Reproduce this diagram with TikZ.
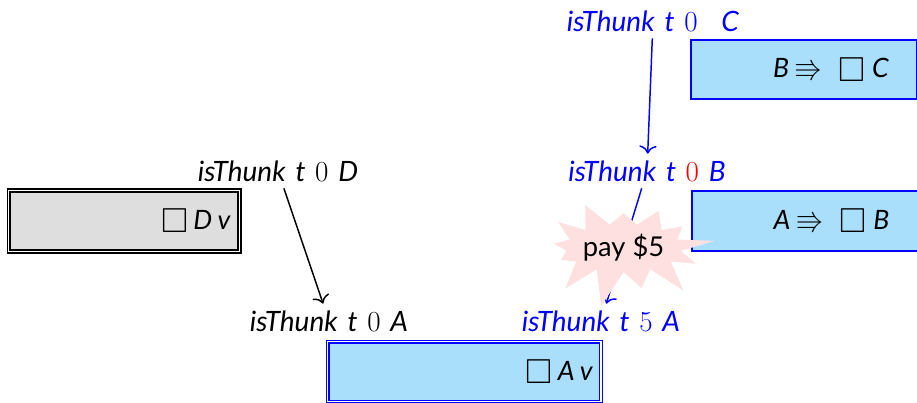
\documentclass[tikz,border=0pt]{standalone}
\usepackage{fontspec}
\usepackage{amsmath,amssymb}
\usepackage{xcolor}
\setmainfont{Lato}
\usetikzlibrary{positioning, arrows.meta, shapes.symbols}
\definecolor{lightsky}{HTML}{A9DFFB}
\definecolor{lightgrey}{HTML}{DEDEDE}
\definecolor{burstpink}{HTML}{FFE0E0}
\newcommand{\thunktext}[2]{\textit{isThunk}\hspace{0.35em}\textit{t}\hspace{0.35em}\scalebox{1.05}{$#1$}\hspace{0.35em}\textit{#2}}
\newcommand{\bigbox}{\raisebox{-2.5pt}{\scalebox{1.3}{$\square$}}}
\newcommand{\bigarrow}{\scalebox{1.05}{$\Rrightarrow$}}
\tikzset{
  thunk/.style={font=\fontsize{21}{24}\selectfont, inner xsep=0pt, inner ysep=5pt},
  cell/.style={draw, anchor=north west, font=\fontsize{20}{24}\selectfont, align=right, inner sep=0pt},
  link/.style={-{To[length=6pt,width=13pt]}, line width=1.1pt},
}
\begin{document}
\begin{tikzpicture}[x=0.75pt,y=-0.75pt]
      \useasboundingbox (0,0) rectangle (917,403);
      \node[thunk,blue] (thunkC) at (653,21) {\thunktext{0}{\hspace{0.5em}C}};
      \node[thunk,blue] (thunkB) at (647,171) {\thunktext{\textcolor{red}{0}}{B}};
      \node[thunk] (thunkD) at (278,171) {\thunktext{0}{D}};
      \node[thunk] (thunkA) at (329,321) {\thunktext{0}{A}};
      \node[thunk,blue] (thunkF) at (601,321) {\thunktext{5}{A}};
      \node[cell,draw=blue,line width=1.5pt,fill=lightsky,minimum width=169.5pt,minimum height=44.5pt,text width=127.5pt] (impC) at (690,39) {\textit{B}\hspace{0.2em}\bigarrow\hspace{0.6em}\bigbox\hspace{0.25em}\textit{C}};
      \node[cell,draw=blue,line width=1.5pt,fill=lightsky,minimum width=169.5pt,minimum height=45pt,text width=127.5pt] (impB) at (690.5,190) {\textit{A}\hspace{0.2em}\bigarrow\hspace{0.6em}\bigbox\hspace{0.25em}\textit{B}};
      \node[cell,draw=black,double,double distance=1pt,line width=1.2pt,fill=lightgrey,minimum width=173pt,minimum height=46pt,text width=160pt] (boxD) at (8,189.5) {\bigbox\hspace{0.2em}\textit{D\hspace{0.2em}v}};
      \node[cell,draw=blue,double,double distance=1pt,line width=1.2pt,fill=lightsky,minimum width=205pt,minimum height=45pt,text width=193pt] (boxA) at (327,341) {\bigbox\hspace{0.2em}\textit{A\hspace{0.2em}v}};
      \draw[link,blue] (thunkC) -- (thunkB);
      \draw[link] (thunkD) -- (thunkA);
      \draw[link,blue] (thunkB) -- (thunkF);
      \node[starburst,fill=burstpink,starburst points=13,starburst point height=28pt,random starburst=13,inner sep=0pt,minimum width=135pt,minimum height=92pt,font=\fontsize{20.5}{24}\selectfont] (burst) at (623.5,248) {pay \$5};
\end{tikzpicture}
\end{document}
